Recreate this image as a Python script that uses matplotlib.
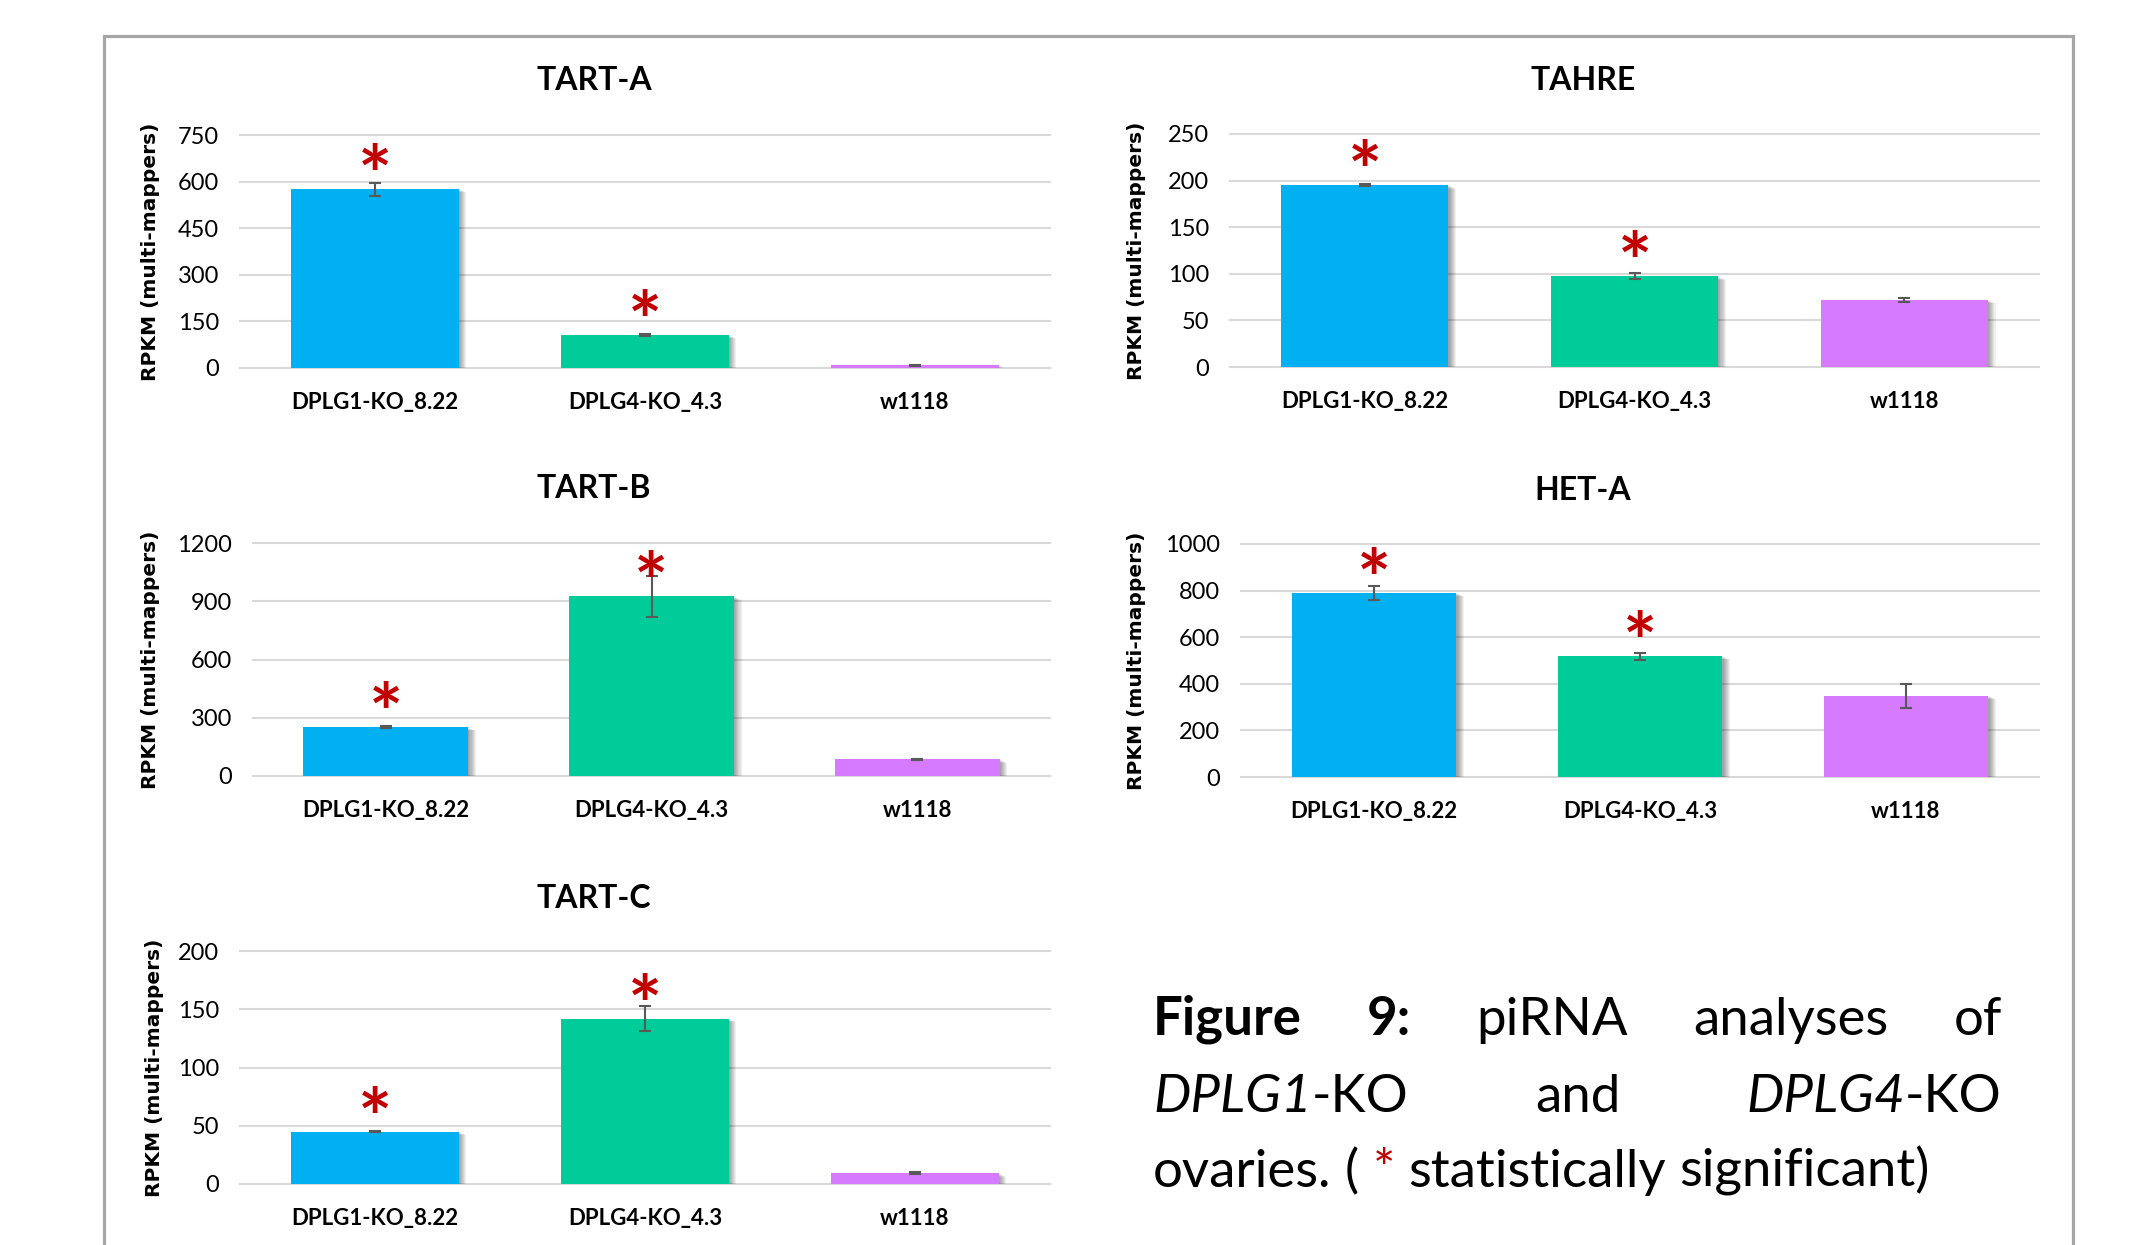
import matplotlib
matplotlib.use("Agg")
import matplotlib.pyplot as plt
import matplotlib.patheffects as pe
from matplotlib.patches import Rectangle

# ---- data -------------------------------------------------------------
strains = ["DPLG1-KO_8.22", "DPLG4-KO_4.3", "w1118"]
bar_colors = ["#00B0F0", "#00CC99", "#D67BFF"]

tart_a_mean = [576, 106, 9]
tart_a_err = [21, 2, 1]
tart_a_sig = [True, True, False]
tart_a_ticks = [0, 150, 300, 450, 600, 750]

tahre_mean = [195, 97.5, 72]
tahre_err = [1, 3.5, 2.5]
tahre_sig = [True, True, False]
tahre_ticks = [0, 50, 100, 150, 200, 250]

tart_b_mean = [252, 925, 87]
tart_b_err = [3, 106, 3]
tart_b_sig = [True, True, False]
tart_b_ticks = [0, 300, 600, 900, 1200]

het_a_mean = [790, 519, 348]
het_a_err = [29, 15, 53]
het_a_sig = [True, True, False]
het_a_ticks = [0, 200, 400, 600, 800, 1000]

tart_c_mean = [45, 142, 9.2]
tart_c_err = [0.5, 10.5, 1]
tart_c_sig = [True, True, False]
tart_c_ticks = [0, 50, 100, 150, 200]

# ---- layout (pixel geometry of the 2132 x 1245 canvas) -----------------
W, H = 2132, 1245
DPI = 100
CAL = "Lato"          # humanist sans used for tick labels, titles and caption
YLAB = "DejaVu Sans"  # wide sans used for the axis title

panels = [
    # title, means, errs, sig, ticks, axes box (l, t, r, b), title centre, ylabel x
    ("TART-A", tart_a_mean, tart_a_err, tart_a_sig, tart_a_ticks, (240, 135, 1050, 368), (594, 81), 151),
    ("TAHRE", tahre_mean, tahre_err, tahre_sig, tahre_ticks, (1230, 134, 2039, 367), (1583, 81), 1136),
    ("TART-B", tart_b_mean, tart_b_err, tart_b_sig, tart_b_ticks, (253, 543, 1050, 776), (594, 489), 151),
    ("HET-A", het_a_mean, het_a_err, het_a_sig, het_a_ticks, (1241, 544, 2039, 777), (1583, 491), 1136),
    ("TART-C", tart_c_mean, tart_c_err, tart_c_sig, tart_c_ticks, (240, 951, 1050, 1184), (594, 898), 154),
]

fig = plt.figure(figsize=(W / DPI, H / DPI), dpi=DPI)
fig.patch.set_facecolor("white")


def fx(px):
    return px / W


def fy(py):
    return 1 - py / H


# outer frame around the whole figure panel (runs off the bottom edge)
fig.patches.append(Rectangle((fx(104), fy(1300)), fx(2073) - fx(104), fy(36) - fy(1300),
                             transform=fig.transFigure, fill=False,
                             edgecolor="#A6A6A6", linewidth=2.3, zorder=0))

shadow = [pe.SimplePatchShadow(offset=(0.8 * k, -0.35 * k), shadow_rgbFace="black", alpha=0.06)
          for k in range(7, 0, -1)] + [pe.Normal()]

for title, means, errs, sig, ticks, box, tpos, ylx in panels:
    l, t, r, b = box
    ax = fig.add_axes([fx(l), fy(b), fx(r) - fx(l), fy(t) - fy(b)])
    top = ticks[-1]
    x = list(range(len(strains)))

    for v in ticks:
        ax.axhline(v, color="#D9D9D9", linewidth=1.5, zorder=0, clip_on=False)

    bars = ax.bar(x, means, width=0.62, color=bar_colors, zorder=2)
    for bar in bars:
        bar.set_path_effects(shadow)

    ax.errorbar(x, means, yerr=errs, fmt="none", ecolor="#595959",
                elinewidth=1.5, capsize=4.5, capthick=1.5, zorder=3)

    # significance marks sit a fixed share of the axis height above each bar
    for i, s in enumerate(sig):
        if s:
            ax.annotate("*", xy=(i, means[i] + 0.15 * top), xytext=(0, -36),
                        textcoords="offset points", color="#C00000", ha="center",
                        va="baseline", fontsize=58, fontweight="bold", family=CAL,
                        zorder=4, annotation_clip=False)

    ax.set_xlim(-0.5, len(strains) - 0.5)
    ax.set_ylim(0, top)
    ax.set_yticks(ticks)
    ax.set_yticklabels([str(v) for v in ticks], family=CAL, fontsize=17)
    ax.set_xticks(x)
    ax.set_xticklabels(strains, family=CAL, fontsize=16, fontweight="bold")
    ax.tick_params(axis="y", length=0, pad=15)
    ax.tick_params(axis="x", length=0, pad=17)
    for sp in ax.spines.values():
        sp.set_visible(False)
    ax.set_facecolor("none")

    ax.set_ylabel("RPKM (multi-mappers)", family=YLAB, fontsize=14.5, fontweight="bold",
                  va="center")
    ax.yaxis.set_label_coords((ylx - l) / (r - l), 0.5)

    fig.text(fx(tpos[0]), fy(tpos[1]), title, ha="center", va="center",
             family=CAL, fontsize=23, fontweight="bold")

# ---- caption, justified the way a word processor would set it -----------
renderer = fig.canvas.get_renderer()
CAP = 38
reg = dict(family=CAL, fontsize=CAP)
bold = dict(family=CAL, fontsize=CAP, fontweight="bold")
ital = dict(family=CAL, fontsize=CAP, fontstyle="italic")
red = dict(family=CAL, fontsize=CAP, color="#C00000")


def width_of(text, kw):
    tmp = fig.text(0, 0, text, **kw)
    w = tmp.get_window_extent(renderer).width
    tmp.remove()
    return w


space_w = width_of("n n", reg) - 2 * width_of("n", reg)


def place_word(x, y, segs):
    for text, kw in segs:
        fig.text(fx(x), fy(y), text, ha="left", va="baseline", **kw)
        x += width_of(text, kw)
    return x


def word_width(segs):
    return sum(width_of(t, kw) for t, kw in segs)


def set_line(x0, x1, y, words, justify=True):
    widths = [word_width(w) for w in words]
    gap = (x1 - x0 - sum(widths)) / (len(words) - 1) if justify else space_w
    x = x0
    for w, wd in zip(words, widths):
        place_word(x, y, w)
        x += wd + gap


left, right = 1153, 2002
set_line(left, right, 1035, [[("Figure", bold)], [("9:", bold)], [("piRNA", reg)],
                             [("analyses", reg)], [("of", reg)]])
set_line(left, right, 1112, [[("DPLG1", ital), ("-KO", reg)], [("and", reg)],
                             [("DPLG4", ital), ("-KO", reg)]])
set_line(left, right, 1187, [[("ovaries.", reg)], [("(", reg)], [("*", red)],
                             [("statistically", reg)], [("significant)", reg)]], justify=False)

fig.savefig("out.png", dpi=DPI, facecolor="white")
